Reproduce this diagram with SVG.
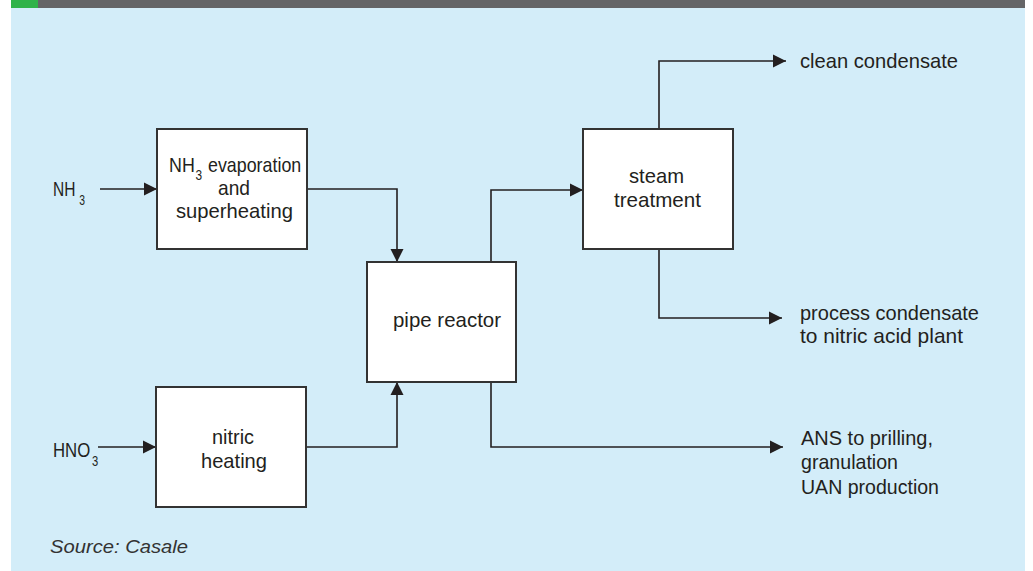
<svg xmlns="http://www.w3.org/2000/svg" width="1033" height="571" viewBox="0 0 1033 571">
<defs>
<marker id="arr" markerUnits="userSpaceOnUse" markerWidth="14" markerHeight="14" refX="13" refY="7" orient="auto">
<path d="M0,0.5 L13,7 L0,13.5 z" fill="#231f20"/>
</marker>
<style>
.bx{fill:#ffffff;stroke:#333333;stroke-width:2}
.ln{fill:none;stroke:#231f20;stroke-width:1.6;marker-end:url(#arr)}
.t{font-family:"Liberation Sans",Arial,sans-serif;font-size:21px;fill:#231f20}
.s{font-size:14px}
.src{font-family:"Liberation Sans",Arial,sans-serif;font-size:19px;font-style:italic;fill:#333333}
</style>
</defs>
<rect x="0" y="0" width="1033" height="571" fill="#ffffff"/>
<rect x="11" y="8" width="1014" height="563" fill="#d3edf9"/>
<rect x="11" y="0" width="1014" height="8" fill="#646567"/>
<rect x="11" y="0" width="27" height="8" fill="#2fb34a"/>

<g id="connectors">
<path class="ln" d="M100,189 H157"/>
<path class="ln" d="M98,447 H156"/>
<path class="ln" d="M307,189 H397 V262"/>
<path class="ln" d="M306,447 H397 V382"/>
<path class="ln" d="M491,262 V190 H583"/>
<path class="ln" d="M659,129 V61 H786"/>
<path class="ln" d="M659,249 V318 H782"/>
<path class="ln" d="M491,382 V447 H783"/>
</g>

<g id="label-nh3">
<text class="t" transform="translate(53,196) scale(0.74,1)">NH<tspan class="s" dx="5" dy="9">3</tspan></text>
</g>
<g id="label-hno3">
<text class="t" transform="translate(53,457) scale(0.8,1)">HNO<tspan class="s" dx="2" dy="9">3</tspan></text>
</g>

<g id="node-evaporation">
<rect class="bx" x="157" y="129" width="150" height="120"/>
<text class="t" transform="translate(169,172) scale(0.85,1)">NH<tspan class="s" dx="1" dy="8">3</tspan><tspan dx="1" dy="-8"> evaporation</tspan></text>
<text class="t" x="218" y="195" textLength="32" lengthAdjust="spacingAndGlyphs">and</text>
<text class="t" x="176" y="218" textLength="117" lengthAdjust="spacingAndGlyphs">superheating</text>
</g>

<g id="node-nitric">
<rect class="bx" x="156" y="387" width="150" height="120"/>
<text class="t" x="212" y="444" textLength="42" lengthAdjust="spacingAndGlyphs">nitric</text>
<text class="t" x="201" y="468" textLength="66" lengthAdjust="spacingAndGlyphs">heating</text>
</g>

<g id="node-pipe">
<rect class="bx" x="367" y="262" width="149" height="120"/>
<text class="t" x="393" y="327" textLength="108" lengthAdjust="spacingAndGlyphs">pipe reactor</text>
</g>

<g id="node-steam">
<rect class="bx" x="583" y="129" width="150" height="120"/>
<text class="t" x="629" y="183" textLength="55" lengthAdjust="spacingAndGlyphs">steam</text>
<text class="t" x="614" y="207" textLength="87" lengthAdjust="spacingAndGlyphs">treatment</text>
</g>

<g id="out-clean">
<text class="t" x="800" y="68" textLength="158" lengthAdjust="spacingAndGlyphs">clean condensate</text>
</g>
<g id="out-process">
<text class="t" x="800" y="320" textLength="179" lengthAdjust="spacingAndGlyphs">process condensate</text>
<text class="t" x="800" y="343" textLength="163" lengthAdjust="spacingAndGlyphs">to nitric acid plant</text>
</g>
<g id="out-ans">
<text class="t" x="801" y="445" textLength="132" lengthAdjust="spacingAndGlyphs">ANS to prilling,</text>
<text class="t" x="801" y="469" textLength="97" lengthAdjust="spacingAndGlyphs">granulation</text>
<text class="t" x="801" y="494" textLength="138" lengthAdjust="spacingAndGlyphs">UAN production</text>
</g>

<text class="src" x="50" y="553" textLength="138" lengthAdjust="spacingAndGlyphs">Source: Casale</text>
</svg>
